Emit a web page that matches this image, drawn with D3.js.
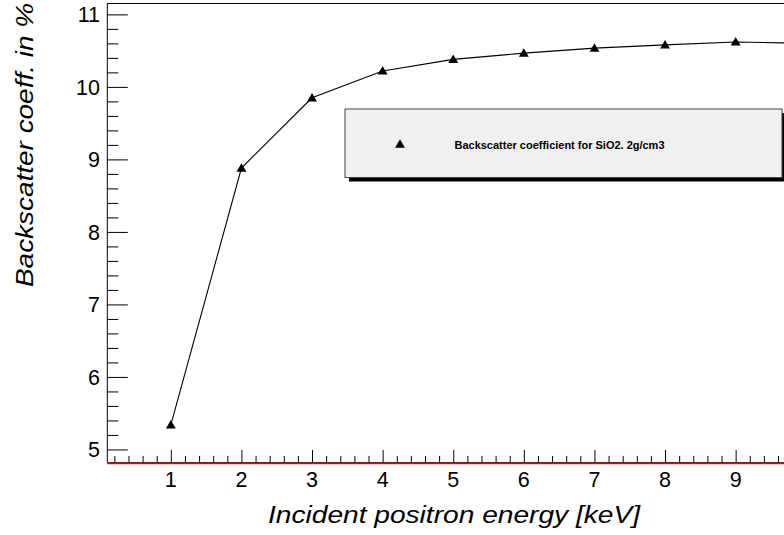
<!DOCTYPE html>
<html>
<head>
<meta charset="utf-8">
<script src="https://cdn.jsdelivr.net/npm/d3@7/dist/d3.min.js"></script>
<style>
  html, body { margin: 0; padding: 0; background: #fff; overflow: hidden; }
  svg { display: block; font-family: "Liberation Sans", Arial, Helvetica, sans-serif; }
</style>
</head>
<body>
<svg id="chart" width="784" height="535"></svg>
<script>
// Backscatter coefficient vs incident positron energy
const energies = [1, 2, 3, 4, 5, 6, 7, 8, 9, 10];
const backscatter = [5.34, 8.88, 9.85, 10.22, 10.38, 10.465, 10.535, 10.58, 10.62, 10.60];
const xTickLabels = ["1", "2", "3", "4", "5", "6", "7", "8", "9"];
const yTickLabels = ["5", "6", "7", "8", "9", "10", "11"];
const seriesName = "Backscatter coefficient for SiO2. 2g/cm3";
const xTitle = "Incident positron energy [keV]";
const yTitle = "Backscatter coeff. in %";

const svg = d3.select("#chart");

const frame = { left: 107.3, top: 3.5, bottom: 462.5 };
const x = d3.scaleLinear().domain([0.1, 10.9]).range([frame.left, frame.left + 10.8 * 70.6]);
const y = d3.scaleLinear().domain([4.82, 11.15]).range([frame.bottom, frame.top]);

const ink = "#000";

// frame lines (top, left)
svg.append("line").attr("x1", frame.left).attr("x2", 900)
  .attr("y1", frame.top).attr("y2", frame.top).attr("stroke", ink).attr("stroke-width", 1);
svg.append("line").attr("x1", frame.left).attr("x2", frame.left)
  .attr("y1", frame.top).attr("y2", frame.bottom).attr("stroke", ink).attr("stroke-width", 1);

// y axis: major and minor ticks pointing into the frame
const yMajor = yTickLabels.map(Number);
const yMinor = d3.range(4.8, 11.2001, 0.2).map(v => +v.toFixed(2))
  .filter(v => v >= 4.82 && v <= 11.15 && !yMajor.includes(v));

const gy = svg.append("g").attr("transform", `translate(${frame.left},0)`)
  .call(d3.axisRight(y).tickValues(yMajor).tickSize(20.5).tickFormat(""));
gy.select(".domain").remove();
gy.selectAll(".tick line").attr("stroke", ink);

const gyMinor = svg.append("g").attr("transform", `translate(${frame.left},0)`)
  .call(d3.axisRight(y).tickValues(yMinor).tickSize(11).tickFormat(""));
gyMinor.select(".domain").remove();
gyMinor.selectAll(".tick line").attr("stroke", ink);

svg.append("g").selectAll("text").data(yTickLabels).join("text")
  .attr("x", 100).attr("y", d => y(+d) + 7.8)
  .attr("text-anchor", "end").attr("font-size", 21.5).attr("fill", ink)
  .text(d => d);

// x axis: major and minor ticks pointing up
const xMajor = d3.range(1, 11);
const xMinor = d3.range(0.2, 10.81, 0.2).map(v => +v.toFixed(2))
  .filter(v => !xMajor.includes(v));

const gx = svg.append("g").attr("transform", `translate(0,${frame.bottom})`)
  .call(d3.axisTop(x).tickValues(xMajor).tickSize(12.5).tickFormat(""));
gx.select(".domain").remove();
gx.selectAll(".tick line").attr("stroke", ink);

const gxMinor = svg.append("g").attr("transform", `translate(0,${frame.bottom})`)
  .call(d3.axisTop(x).tickValues(xMinor).tickSize(6.5).tickFormat(""));
gxMinor.select(".domain").remove();
gxMinor.selectAll(".tick line").attr("stroke", ink);

svg.append("g").selectAll("text").data(xTickLabels).join("text")
  .attr("x", d => x(+d)).attr("y", 487)
  .attr("text-anchor", "middle").attr("font-size", 21.5).attr("fill", ink)
  .text(d => d);

// bottom axis line with the red baseline beneath it
svg.append("line").attr("x1", frame.left).attr("x2", 900)
  .attr("y1", frame.bottom).attr("y2", frame.bottom).attr("stroke", "#333").attr("stroke-width", 1);
svg.append("line").attr("x1", frame.left).attr("x2", 900)
  .attr("y1", frame.bottom + 1).attr("y2", frame.bottom + 1).attr("stroke", "#e00000").attr("stroke-width", 1.6);

// axis titles (wide italic lettering)
svg.append("text").attr("x", 454).attr("y", 523)
  .attr("text-anchor", "middle").attr("font-size", 24).attr("font-style", "italic").attr("fill", ink)
  .attr("textLength", 372).attr("lengthAdjust", "spacingAndGlyphs")
  .text(xTitle);
svg.append("text").attr("transform", "translate(33,145) rotate(-90)")
  .attr("text-anchor", "middle").attr("font-size", 24).attr("font-style", "italic").attr("fill", ink)
  .attr("textLength", 284).attr("lengthAdjust", "spacingAndGlyphs")
  .text(yTitle);

// data: line through the points, triangle markers on top
const pts = energies.map((e, i) => [e, backscatter[i]]);
svg.append("path").datum(pts)
  .attr("d", d3.line().x(d => x(d[0])).y(d => y(d[1])))
  .attr("fill", "none").attr("stroke", ink).attr("stroke-width", 1.1);

const tri = d3.symbol().type(d3.symbolTriangle).size(42);
svg.append("g").selectAll("path").data(pts).join("path")
  .attr("transform", d => `translate(${x(d[0])},${y(d[1]) + 0.8})`)
  .attr("d", tri).attr("fill", ink);

// legend box with drop shadow
const lg = { x: 345, y: 109, w: 437, h: 68.5 };
svg.append("rect").attr("x", lg.x + 4).attr("y", lg.y + 4).attr("width", lg.w).attr("height", lg.h).attr("fill", "#000");
svg.append("rect").attr("x", lg.x).attr("y", lg.y).attr("width", lg.w).attr("height", lg.h)
  .attr("fill", "#f0f0f0").attr("stroke", "#444").attr("stroke-width", 1);
svg.append("path").attr("transform", `translate(400,145)`).attr("d", tri).attr("fill", ink);
svg.append("text").attr("x", 454.5).attr("y", 148.5)
  .attr("font-size", 11).attr("font-weight", "bold").attr("fill", ink)
  .attr("textLength", 210).attr("lengthAdjust", "spacingAndGlyphs")
  .text(seriesName);
</script>
</body>
</html>
